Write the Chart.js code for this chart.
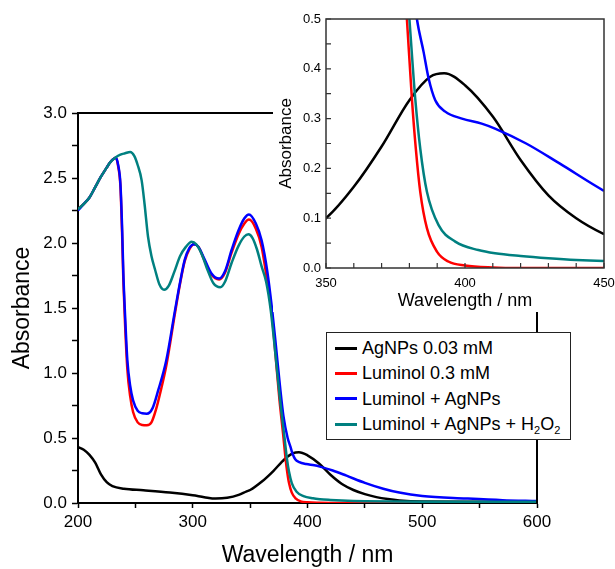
<!DOCTYPE html>
<html>
<head>
<meta charset="utf-8">
<script src="https://cdn.jsdelivr.net/npm/chart.js@4.4.1/dist/chart.umd.min.js"></script>
<style>
  html, body { margin: 0; padding: 0; background: #fff; }
  body { width: 615px; height: 569px; position: relative; overflow: hidden; font-family: "Liberation Sans", Arial, sans-serif; }
  #main { position: absolute; left: 0; top: 0; }
  #inset { position: absolute; left: 262px; top: 0; }
  #legend {
    position: absolute; left: 326px; top: 332px; width: 243px; height: 106px;
    border: 1.5px solid #222; background: #fff; font-size: 18px; color: #000;
  }
  .row { position: absolute; left: 8px; height: 24px; line-height: 24px; white-space: nowrap; }
  .row i { display: inline-block; width: 22px; height: 3px; vertical-align: middle; margin-right: 5px; position: relative; top: -1px; }
  .row sub { font-size: 11px; vertical-align: -4px; line-height: 0; }
</style>
</head>
<body>
<canvas id="main" width="615" height="569"></canvas>
<canvas id="inset" width="365" height="320"></canvas>
<div id="legend"></div>
<script>
// AgNPs 0.03 mM (black)
const agWl  = [200, 205, 210, 215, 220, 225, 230, 240, 257, 280, 300, 310, 320, 330, 340, 347, 350, 360, 370, 380, 387.5, 392.5, 400, 410, 420, 430, 440, 450, 460, 470, 480, 500, 550, 600];
const agAbs = [0.43, 0.41, 0.37, 0.31, 0.22, 0.16, 0.13, 0.11, 0.098, 0.08, 0.059, 0.045, 0.034, 0.04, 0.062, 0.09, 0.10, 0.163, 0.244, 0.337, 0.384, 0.391, 0.367, 0.304, 0.217, 0.146, 0.10, 0.068, 0.045, 0.03, 0.02, 0.012, 0.01, 0.008];

// Luminol 0.3 mM (red)
const lumWl  = [200, 205, 210, 215, 220, 225, 228, 233, 235, 237, 238.5, 239.5, 241, 243, 245.5, 248, 252, 256, 260, 264, 268, 272, 277, 284.5, 289, 293, 297, 301, 305, 310, 316, 323, 328, 334, 340, 345, 349, 355, 360, 364, 369, 372, 375.5, 379.1, 380.9, 382.3, 383.9, 386.3, 389.9, 394, 400, 410, 420, 600];
const lumAbs = [2.26, 2.30, 2.35, 2.43, 2.51, 2.58, 2.62, 2.655, 2.59, 2.43, 2.05, 1.72, 1.38, 1.03, 0.82, 0.70, 0.62, 0.60, 0.598, 0.62, 0.72, 0.86, 1.06, 1.46, 1.69, 1.86, 1.95, 1.99, 1.97, 1.87, 1.76, 1.72, 1.77, 1.93, 2.07, 2.15, 2.18, 2.11, 1.97, 1.76, 1.45, 1.15, 0.80, 0.50, 0.34, 0.24, 0.153, 0.08, 0.033, 0.013, 0.005, 0.001, 0, 0];

// Luminol + AgNPs (blue)
const mixWl  = [200, 205, 210, 215, 220, 225, 228, 233, 235, 237, 238.5, 239.5, 241, 243, 245.5, 248, 252, 256, 260, 265, 270, 277, 284.5, 289, 293, 297, 301, 305, 310, 316, 323, 328, 334, 340, 345, 349, 355, 360, 365, 369, 372, 376, 379, 382.7, 385.1, 386.9, 389.3, 392.9, 398.9, 406, 410.8, 422, 434, 450, 466, 480, 500, 538, 570, 600];
const mixAbs = [2.25, 2.30, 2.35, 2.43, 2.51, 2.58, 2.62, 2.655, 2.60, 2.45, 2.10, 1.77, 1.45, 1.10, 0.90, 0.79, 0.71, 0.69, 0.687, 0.73, 0.87, 1.10, 1.48, 1.70, 1.87, 1.96, 1.99, 1.97, 1.88, 1.77, 1.726, 1.78, 1.95, 2.10, 2.19, 2.22, 2.15, 2.02, 1.78, 1.50, 1.25, 0.90, 0.67, 0.50, 0.434, 0.381, 0.337, 0.314, 0.30, 0.29, 0.28, 0.25, 0.21, 0.155, 0.11, 0.08, 0.054, 0.035, 0.022, 0.016];

// Luminol + AgNPs + H2O2 (teal)
const h2o2Wl  = [200, 205, 210, 215, 220, 225, 228, 233, 237, 241, 245.5, 249, 252, 255.5, 258, 261, 264, 267, 271, 275, 279, 284, 289, 294, 299, 303, 308, 313, 318, 324, 328, 334, 340, 345, 348.5, 352, 356, 360, 364, 368, 372, 376, 380, 382.1, 383.9, 386.3, 390.5, 396.5, 404.8, 410.8, 420, 430, 440, 450, 500, 600];
const h2o2Abs = [2.26, 2.30, 2.35, 2.43, 2.51, 2.58, 2.62, 2.66, 2.68, 2.69, 2.70, 2.67, 2.60, 2.48, 2.30, 2.05, 1.90, 1.80, 1.68, 1.64, 1.67, 1.78, 1.90, 1.97, 2.01, 1.99, 1.91, 1.79, 1.69, 1.66, 1.70, 1.85, 1.98, 2.05, 2.067, 2.04, 1.95, 1.82, 1.70, 1.48, 1.15, 0.80, 0.50, 0.34, 0.24, 0.153, 0.086, 0.053, 0.036, 0.0295, 0.024, 0.0195, 0.016, 0.014, 0.01, 0.01];

const seriesNames  = ['AgNPs 0.03 mM', 'Luminol 0.3 mM', 'Luminol + AgNPs', 'Luminol + AgNPs + H<sub>2</sub>O<sub>2</sub>'];
const seriesColors = ['#000000', '#ff0000', '#0000ff', '#008080'];
const seriesX = [agWl, lumWl, mixWl, h2o2Wl];
const seriesY = [agAbs, lumAbs, mixAbs, h2o2Abs];
const drawOrder = [3, 2, 1, 0]; // teal on top

function makeSets(width) {
  return seriesX.map((xs, i) => ({
    label: seriesNames[i],
    data: xs.map((x, j) => ({ x: x, y: seriesY[i][j] })),
    borderColor: seriesColors[i],
    borderWidth: width,
    pointRadius: 0,
    fill: false,
    cubicInterpolationMode: 'monotone',
    order: drawOrder[i]
  }));
}

const FONT = '"Liberation Sans", Arial, sans-serif';

// top and right frame lines of the main plot
const mainFrame = {
  id: 'mainFrame',
  afterDatasetsDraw(chart) {
    const a = chart.chartArea, ctx = chart.ctx;
    ctx.save();
    ctx.strokeStyle = '#000';
    ctx.lineWidth = 2;
    ctx.beginPath();
    ctx.moveTo(a.left, a.top);
    ctx.lineTo(a.right, a.top);
    ctx.lineTo(a.right, a.bottom);
    ctx.stroke();
    ctx.restore();
  }
};

new Chart(document.getElementById('main'), {
  type: 'line',
  data: { datasets: makeSets(2.5) },
  options: {
    responsive: false,
    animation: false,
    devicePixelRatio: 1,
    layout: { padding: { top: 113, right: 78, left: 0, bottom: 0 } },
    plugins: { legend: { display: false }, tooltip: { enabled: false } },
    scales: {
      x: {
        type: 'linear', min: 200, max: 600,
        ticks: {
          stepSize: 50, autoSkip: false, maxRotation: 0, padding: 4,
          color: '#000', font: { family: FONT, size: 17 },
          callback: v => (v % 100 === 0 ? v : '')
        },
        grid: { drawOnChartArea: false, tickLength: 5, color: '#000', tickWidth: 1.5 },
        border: { color: '#000', width: 2 },
        title: { display: true, text: 'Wavelength / nm', color: '#000', font: { family: FONT, size: 23 }, padding: { top: 0, bottom: 0 } },
        afterFit(s) { s.height = 66; }
      },
      y: {
        type: 'linear', min: 0, max: 3,
        ticks: {
          stepSize: 0.25, autoSkip: false, padding: 5,
          color: '#000', font: { family: FONT, size: 17 },
          callback: v => (Math.abs(v * 2 - Math.round(v * 2)) < 1e-6 ? v.toFixed(1) : '')
        },
        grid: { drawOnChartArea: false, tickLength: 6, color: '#000', tickWidth: 1.5 },
        border: { color: '#000', width: 2 },
        title: { display: true, text: 'Absorbance', color: '#000', font: { family: FONT, size: 23 }, padding: { top: 9, bottom: 0 } },
        afterFit(s) { s.width = 78; }
      }
    }
  },
  plugins: [mainFrame]
});

// inset: white backing, full box, ticks pointing inward
const insetDeco = {
  id: 'insetDeco',
  beforeDraw(chart) {
    const ctx = chart.ctx;
    ctx.save();
    ctx.fillStyle = '#fff';
    ctx.fillRect(11, 0, chart.width - 11, 312);
    ctx.restore();
  },
  afterDatasetsDraw(chart) {
    const a = chart.chartArea, ctx = chart.ctx;
    const sx = chart.scales.x, sy = chart.scales.y;
    ctx.save();
    ctx.strokeStyle = '#333';
    ctx.lineWidth = 1.2;
    ctx.beginPath();
    sx.ticks.forEach(t => {
      const px = sx.getPixelForValue(t.value);
      ctx.moveTo(px, a.bottom);
      ctx.lineTo(px, a.bottom - 5);
    });
    sy.ticks.forEach(t => {
      const py = sy.getPixelForValue(t.value);
      ctx.moveTo(a.left, py);
      ctx.lineTo(a.left + 5, py);
    });
    ctx.stroke();
    ctx.lineWidth = 1.5;
    ctx.strokeRect(a.left, a.top, a.right - a.left, a.bottom - a.top);
    ctx.restore();
  }
};

new Chart(document.getElementById('inset'), {
  type: 'line',
  data: { datasets: makeSets(2.5) },
  options: {
    responsive: false,
    animation: false,
    devicePixelRatio: 1,
    layout: { padding: { top: 19, right: 23, left: 0, bottom: 0 } },
    plugins: { legend: { display: false }, tooltip: { enabled: false } },
    scales: {
      x: {
        type: 'linear', min: 350, max: 450,
        ticks: {
          stepSize: 10, autoSkip: false, maxRotation: 0, padding: 8,
          color: '#000', font: { family: FONT, size: 13 },
          callback: v => (v % 50 === 0 ? v : '')
        },
        grid: { display: false, drawTicks: false },
        border: { display: false },
        title: { display: true, text: 'Wavelength / nm', color: '#000', font: { family: FONT, size: 18 }, padding: { top: 0, bottom: 8 } },
        afterFit(s) { s.height = 52; }
      },
      y: {
        type: 'linear', min: 0, max: 0.5,
        ticks: {
          stepSize: 0.05, autoSkip: false, padding: 5,
          color: '#000', font: { family: FONT, size: 13 },
          callback: v => (Math.abs(v * 10 - Math.round(v * 10)) < 1e-6 ? v.toFixed(1) : '')
        },
        grid: { display: false, drawTicks: false },
        border: { display: false },
        title: { display: true, text: 'Absorbance', color: '#000', font: { family: FONT, size: 17 }, padding: { top: 14, bottom: 0 } },
        afterFit(s) { s.width = 64; }
      }
    }
  },
  plugins: [insetDeco]
});

// legend box
const legend = document.getElementById('legend');
seriesNames.forEach((name, i) => {
  const row = document.createElement('div');
  row.className = 'row';
  row.style.top = (3 + i * 25.3) + 'px';
  row.innerHTML = '<i style="background:' + seriesColors[i] + '"></i>' + name;
  legend.appendChild(row);
});
</script>
</body>
</html>
